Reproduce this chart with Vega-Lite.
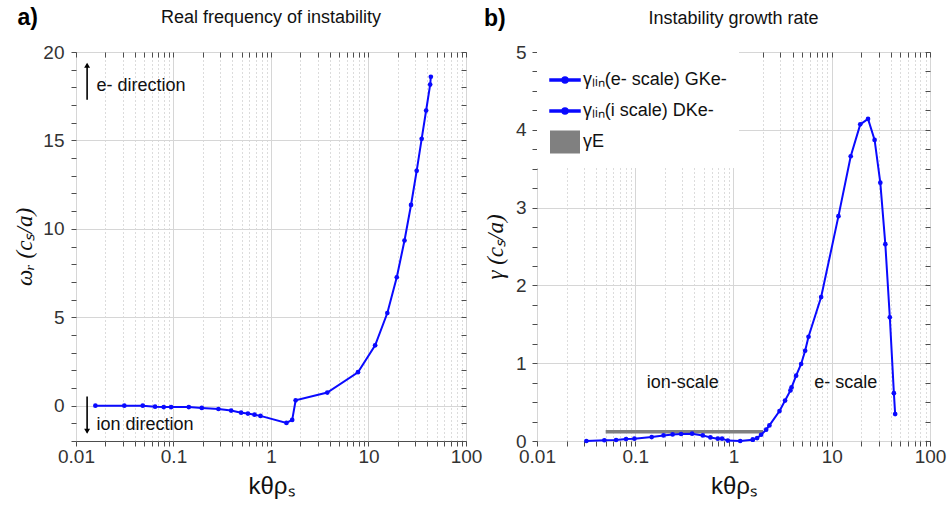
{
  "$schema": "https://vega.github.io/schema/vega-lite/v6.json",
  "padding": {"left": 13, "top": 6, "right": 5, "bottom": 5},
  "bounds": "flush",
  "spacing": 71,
  "resolve": {"scale": {"color": "independent", "size": "independent", "shape": "independent"}, "legend": {"color": "independent", "shape": "independent"}},
  "config": {
    "font": "Liberation Sans",
    "view": {"stroke": "#4d4d4d", "strokeWidth": 1},
    "axis": {"domain": false, "labelFont": "Liberation Sans", "labelFontSize": 19, "labelColor": "#333333", "tickColor": "#4d4d4d", "tickWidth": 1, "titleFontWeight": "normal", "titleColor": "#111111"}
  },
  "datasets": {
    "omega": [
      {"k": 0.0158, "v": 0}, {"k": 0.0313, "v": 0}, {"k": 0.0484, "v": 0}, {"k": 0.0647, "v": -0.06},
      {"k": 0.0794, "v": -0.08}, {"k": 0.0945, "v": -0.08}, {"k": 0.1435, "v": -0.08}, {"k": 0.195, "v": -0.13},
      {"k": 0.289, "v": -0.19}, {"k": 0.39, "v": -0.28}, {"k": 0.494, "v": -0.4}, {"k": 0.58, "v": -0.45},
      {"k": 0.677, "v": -0.51}, {"k": 0.78, "v": -0.58}, {"k": 1.44, "v": -0.98}, {"k": 1.65, "v": -0.81},
      {"k": 1.79, "v": 0.3}, {"k": 3.78, "v": 0.74}, {"k": 7.8, "v": 1.89}, {"k": 11.7, "v": 3.41},
      {"k": 15.6, "v": 5.24}, {"k": 19.5, "v": 7.26}, {"k": 23.4, "v": 9.34}, {"k": 27.3, "v": 11.35},
      {"k": 31.2, "v": 13.28}, {"k": 35.1, "v": 15.09}, {"k": 39.0, "v": 16.69}, {"k": 42.9, "v": 18.16},
      {"k": 43.6, "v": 18.6}
    ],
    "gamma": [
      {"k": 0.0318, "v": 0, "s": "i"}, {"k": 0.0485, "v": 0.01, "s": "i"}, {"k": 0.0638, "v": 0.013, "s": "i"},
      {"k": 0.0806, "v": 0.025, "s": "i"}, {"k": 0.098, "v": 0.03, "s": "i"}, {"k": 0.147, "v": 0.05, "s": "i"},
      {"k": 0.194, "v": 0.072, "s": "i"}, {"k": 0.24, "v": 0.085, "s": "i"}, {"k": 0.293, "v": 0.09, "s": "i"},
      {"k": 0.379, "v": 0.094, "s": "i"}, {"k": 0.487, "v": 0.072, "s": "i"}, {"k": 0.582, "v": 0.046, "s": "i"},
      {"k": 0.692, "v": 0.03, "s": "i"}, {"k": 0.765, "v": 0.03, "s": "i"}, {"k": 0.875, "v": 0.005, "s": "i"},
      {"k": 1.17, "v": 0, "s": "i"}, {"k": 1.57, "v": 0.017, "s": "i"},
      {"k": 1.57, "v": 0.017, "s": "e"}, {"k": 1.74, "v": 0.038, "s": "e"}, {"k": 1.91, "v": 0.08, "s": "e"},
      {"k": 2.15, "v": 0.145, "s": "e"}, {"k": 2.32, "v": 0.2, "s": "e"}, {"k": 2.94, "v": 0.385, "s": "e"},
      {"k": 3.35, "v": 0.52, "s": "e"}, {"k": 3.8, "v": 0.65, "s": "e"}, {"k": 3.9, "v": 0.69, "s": "e"},
      {"k": 4.34, "v": 0.84, "s": "e"}, {"k": 4.88, "v": 0.99, "s": "e"}, {"k": 5.36, "v": 1.16, "s": "e"},
      {"k": 5.8, "v": 1.34, "s": "e"}, {"k": 7.8, "v": 1.85, "s": "e"}, {"k": 11.7, "v": 2.89, "s": "e"},
      {"k": 15.6, "v": 3.66, "s": "e"}, {"k": 19.5, "v": 4.07, "s": "e"}, {"k": 23.4, "v": 4.14, "s": "e"},
      {"k": 27.3, "v": 3.87, "s": "e"}, {"k": 31.2, "v": 3.32, "s": "e"}, {"k": 35.1, "v": 2.53, "s": "e"},
      {"k": 39.0, "v": 1.59, "s": "e"}, {"k": 42.9, "v": 0.615, "s": "e"}, {"k": 44.2, "v": 0.346, "s": "e"}
    ],
    "gE": [{"k": 0.05, "v": 0.12, "s": "E"}, {"k": 2.0, "v": 0.12, "s": "E"}],
    "arrows": [{"k": 0.013, "v": 17.3, "v2": 19.3}, {"k": 0.013, "v": 0.51, "v2": -1.5}],
    "heads": [{"k": 0.013, "v": 19.25, "dir": "up"}, {"k": 0.013, "v": -1.45, "dir": "down"}],
    "annA": [{"k": 0.0162, "v": 18.1, "t": "e- direction"}, {"k": 0.0162, "v": -1.07, "t": "ion direction"}],
    "annB": [{"k": 0.305, "v": 0.74, "t": "ion-scale"}, {"k": 13.9, "v": 0.74, "t": "e- scale"}],
    "headA": [{"k": 1, "v": 21.95, "t": "Real frequency of instability"}],
    "labA": [{"k": 0.0032, "v": 21.95, "t": "a)"}],
    "headB": [{"k": 1, "v": 5.42, "t": "Instability growth rate"}],
    "labB": [{"k": 0.00373, "v": 5.42, "t": "b)"}]
  },
  "hconcat": [
    {
      "width": 390,
      "height": 389,
      "layer": [
        {
          "data": {"name": "omega"},
          "mark": {"type": "line", "color": "#0a0aff", "strokeWidth": 2},
          "encoding": {
            "x": {"field": "k", "type": "quantitative", "scale": {"type": "log", "domain": [0.01, 100]},
              "axis": {"orient": "bottom", "values": [0.01,0.02,0.03,0.04,0.05,0.06,0.07,0.08,0.09,0.1,0.2,0.3,0.4,0.5,0.6,0.7,0.8,0.9,1,2,3,4,5,6,7,8,9,10,20,30,40,50,60,70,80,90,100],
                "labelExpr": "indexof([0.01,0.1,1,10,100], datum.value) >= 0 ? format(datum.value, '~g') : ''",
                "labelOverlap": false, "labelFlush": false, "labelPadding": 1, "tickSize": 5,
                "grid": true,
                "gridDash": {"condition": {"test": "indexof([0.01,0.1,1,10,100], datum.value) >= 0", "value": []}, "value": [1, 3]},
                "gridColor": {"condition": {"test": "indexof([0.01,0.1,1,10,100], datum.value) >= 0", "value": "#d6d6d6"}, "value": "#b8b8b8"},
                "title": "kθρₛ", "titleFontSize": 24, "titlePadding": 8, "titleFont": "Liberation Sans"}},
            "y": {"field": "v", "type": "quantitative", "scale": {"domain": [-2, 20], "nice": false, "zero": false},
              "axis": {"orient": "left", "values": [-2,-1,0,1,2,3,4,5,6,7,8,9,10,11,12,13,14,15,16,17,18,19,20], "format": "~g",
                "labelExpr": "indexof([0,5,10,15,20], datum.value) >= 0 ? datum.label : ''", "labelOverlap": false, "labelFlush": false,
                "tickSize": 5, "labelPadding": 7, "grid": true, "gridColor": "#d6d6d6",
                "gridOpacity": {"condition": {"test": "indexof([0,5,10,15,20], datum.value) >= 0", "value": 1}, "value": 0},
                "title": "ωᵣ (cₛ/a)", "titleFont": "Liberation Serif", "titleFontStyle": "italic", "titleFontSize": 23, "titlePadding": 6}}
          }
        },
        {
          "data": {"name": "omega"},
          "mark": {"type": "point", "filled": true, "color": "#0a0aff", "size": 22, "opacity": 1},
          "encoding": {
            "x": {"field": "k", "type": "quantitative", "scale": {"type": "log", "domain": [0.01, 100]}, "axis": null},
            "y": {"field": "v", "type": "quantitative", "scale": {"domain": [-2, 20], "nice": false, "zero": false}, "axis": null}
          }
        },
        {
          "data": {"name": "arrows"},
          "mark": {"type": "rule", "color": "black", "strokeWidth": 1.6},
          "encoding": {
            "x": {"field": "k", "type": "quantitative", "scale": {"type": "log", "domain": [0.01, 100]}, "axis": null},
            "y": {"field": "v", "type": "quantitative", "scale": {"domain": [-2, 20], "nice": false, "zero": false}, "axis": null},
            "y2": {"field": "v2"}
          }
        },
        {
          "data": {"name": "heads"},
          "mark": {"type": "point", "filled": true, "color": "black", "size": 35, "opacity": 1},
          "encoding": {
            "x": {"field": "k", "type": "quantitative", "scale": {"type": "log", "domain": [0.01, 100]}, "axis": null},
            "y": {"field": "v", "type": "quantitative", "scale": {"domain": [-2, 20], "nice": false, "zero": false}, "axis": null},
            "shape": {"field": "dir", "type": "nominal", "scale": {"domain": ["up", "down"], "range": ["triangle-up", "triangle-down"]}, "legend": null}
          }
        },
        {
          "data": {"name": "annA"},
          "mark": {"type": "text", "align": "left", "baseline": "middle", "fontSize": 18, "font": "Liberation Sans", "color": "#111111"},
          "encoding": {
            "x": {"field": "k", "type": "quantitative", "scale": {"type": "log", "domain": [0.01, 100]}, "axis": null},
            "y": {"field": "v", "type": "quantitative", "scale": {"domain": [-2, 20], "nice": false, "zero": false}, "axis": null},
            "text": {"field": "t"}
          }
        },
        {
          "data": {"name": "headA"},
          "mark": {"type": "text", "align": "center", "baseline": "middle", "fontSize": 18, "font": "Liberation Sans", "color": "#111111"},
          "encoding": {
            "x": {"field": "k", "type": "quantitative", "scale": {"type": "log", "domain": [0.01, 100]}, "axis": null},
            "y": {"field": "v", "type": "quantitative", "scale": {"domain": [-2, 20], "nice": false, "zero": false}, "axis": null},
            "text": {"field": "t"}
          }
        },
        {
          "data": {"name": "labA"},
          "mark": {"type": "text", "align": "center", "baseline": "middle", "fontSize": 23, "fontWeight": "bold", "font": "Liberation Sans", "color": "black"},
          "encoding": {
            "x": {"field": "k", "type": "quantitative", "scale": {"type": "log", "domain": [0.01, 100]}, "axis": null},
            "y": {"field": "v", "type": "quantitative", "scale": {"domain": [-2, 20], "nice": false, "zero": false}, "axis": null},
            "text": {"field": "t"}
          }
        },
        {
          "data": {"name": "omega"},
          "mark": {"type": "point", "opacity": 0},
          "encoding": {
            "x": {"field": "k", "type": "quantitative", "scale": {"type": "log", "domain": [0.01, 100]},
              "axis": {"orient": "top", "values": [0.01,0.02,0.03,0.04,0.05,0.06,0.07,0.08,0.09,0.1,0.2,0.3,0.4,0.5,0.6,0.7,0.8,0.9,1,2,3,4,5,6,7,8,9,10,20,30,40,50,60,70,80,90,100],
                "labels": false, "grid": false, "title": null, "tickSize": 5, "offset": -5}},
            "y": {"field": "v", "type": "quantitative", "scale": {"domain": [-2, 20], "nice": false, "zero": false},
              "axis": {"orient": "right", "values": [-2,-1,0,1,2,3,4,5,6,7,8,9,10,11,12,13,14,15,16,17,18,19,20],
                "labels": false, "grid": false, "title": null, "tickSize": 5, "offset": -5}}
          }
        }
      ],
      "resolve": {"axis": {"x": "independent", "y": "independent"}}
    },
    {
      "width": 393,
      "height": 389,
      "layer": [
        {
          "data": {"name": "gE"},
          "mark": {"type": "line", "strokeWidth": 3.5},
          "encoding": {
            "x": {"field": "k", "type": "quantitative", "scale": {"type": "log", "domain": [0.01, 100]},
              "axis": {"orient": "bottom", "values": [0.01,0.02,0.03,0.04,0.05,0.06,0.07,0.08,0.09,0.1,0.2,0.3,0.4,0.5,0.6,0.7,0.8,0.9,1,2,3,4,5,6,7,8,9,10,20,30,40,50,60,70,80,90,100],
                "labelExpr": "indexof([0.01,0.1,1,10,100], datum.value) >= 0 ? format(datum.value, '~g') : ''",
                "labelOverlap": false, "labelFlush": false, "labelPadding": 1, "tickSize": 5,
                "grid": true,
                "gridDash": {"condition": {"test": "indexof([0.01,0.1,1,10,100], datum.value) >= 0", "value": []}, "value": [1, 3]},
                "gridColor": {"condition": {"test": "indexof([0.01,0.1,1,10,100], datum.value) >= 0", "value": "#d6d6d6"}, "value": "#b8b8b8"},
                "title": "kθρₛ", "titleFontSize": 24, "titlePadding": 8, "titleFont": "Liberation Sans"}},
            "y": {"field": "v", "type": "quantitative", "scale": {"domain": [0, 5], "nice": false},
              "axis": {"orient": "left", "values": [0,0.25,0.5,0.75,1,1.25,1.5,1.75,2,2.25,2.5,2.75,3,3.25,3.5,3.75,4,4.25,4.5,4.75,5], "format": "~g",
                "labelExpr": "indexof([0,1,2,3,4,5], datum.value) >= 0 ? datum.label : ''", "labelOverlap": false, "labelFlush": false,
                "tickSize": 5, "labelPadding": 6, "grid": true, "gridColor": "#d6d6d6",
                "gridOpacity": {"condition": {"test": "indexof([0,1,2,3,4,5], datum.value) >= 0", "value": 1}, "value": 0},
                "title": "γ (cₛ/a)", "titleFont": "Liberation Serif", "titleFontStyle": "italic", "titleFontSize": 23, "titlePadding": 8}},
            "color": {"field": "s", "type": "nominal", "scale": {"domain": ["e", "i", "E"], "range": ["#0a0aff", "#0a0aff", "#808080"]}}
          }
        },
        {
          "data": {"name": "gamma"},
          "mark": {"type": "line", "strokeWidth": 2},
          "encoding": {
            "x": {"field": "k", "type": "quantitative", "scale": {"type": "log", "domain": [0.01, 100]}, "axis": null},
            "y": {"field": "v", "type": "quantitative", "scale": {"domain": [0, 5], "nice": false}, "axis": null},
            "color": {"field": "s", "type": "nominal", "scale": {"domain": ["e", "i", "E"], "range": ["#0a0aff", "#0a0aff", "#808080"]}}
          }
        },
        {
          "data": {"name": "gamma"},
          "mark": {"type": "point", "filled": true, "size": 22, "opacity": 1},
          "encoding": {
            "x": {"field": "k", "type": "quantitative", "scale": {"type": "log", "domain": [0.01, 100]}, "axis": null},
            "y": {"field": "v", "type": "quantitative", "scale": {"domain": [0, 5], "nice": false}, "axis": null},
            "color": {"field": "s", "type": "nominal", "scale": {"domain": ["e", "i", "E"], "range": ["#0a0aff", "#0a0aff", "#808080"]},
              "legend": {
                "title": null, "orient": "top-left", "offset": 0, "padding": 12, "fillColor": "white", "rowPadding": 6,
                "labelFont": "Liberation Sans", "labelFontSize": 18, "labelColor": "#111111", "labelOffset": 2, "labelLimit": 400,
                "symbolSize": 900,
                "labelExpr": "datum.value == 'e' ? 'γₗᵢₙ(e- scale) GKe-' : datum.value == 'i' ? 'γₗᵢₙ(i scale) DKe-' : 'γE'"
              }}
          }
        },
        {
          "data": {"name": "gE"},
          "mark": {"type": "point", "filled": true, "size": 0, "opacity": 1},
          "encoding": {
            "x": {"field": "k", "type": "quantitative", "scale": {"type": "log", "domain": [0.01, 100]}, "axis": null},
            "y": {"field": "v", "type": "quantitative", "scale": {"domain": [0, 5], "nice": false}, "axis": null},
            "color": {"field": "s", "type": "nominal", "scale": {"domain": ["e", "i", "E"], "range": ["#0a0aff", "#0a0aff", "#808080"]}},
            "shape": {"field": "s", "type": "nominal",
              "scale": {"domain": ["e", "i", "E"], "range": ["M-1,-0.07L1,-0.07L1,0.07L-1,0.07Z M-0.2,0A0.2,0.2,0,1,1,0.2,0A0.2,0.2,0,1,1,-0.2,0Z", "M-1,-0.07L1,-0.07L1,0.07L-1,0.07Z M-0.2,0A0.2,0.2,0,1,1,0.2,0A0.2,0.2,0,1,1,-0.2,0Z", "M-0.95,-0.72L0.95,-0.72L0.95,0.72L-0.95,0.72Z"]},
              "legend": {
                "title": null, "orient": "top-left", "offset": 0, "padding": 12, "fillColor": "white", "rowPadding": 6,
                "labelFont": "Liberation Sans", "labelFontSize": 18, "labelColor": "#111111", "labelOffset": 2, "labelLimit": 400,
                "symbolSize": 900,
                "labelExpr": "datum.value == 'e' ? 'γₗᵢₙ(e- scale) GKe-' : datum.value == 'i' ? 'γₗᵢₙ(i scale) DKe-' : 'γE'"
              }}
          }
        },
        {
          "data": {"name": "annB"},
          "mark": {"type": "text", "align": "center", "baseline": "middle", "fontSize": 18, "font": "Liberation Sans", "color": "#111111"},
          "encoding": {
            "x": {"field": "k", "type": "quantitative", "scale": {"type": "log", "domain": [0.01, 100]}, "axis": null},
            "y": {"field": "v", "type": "quantitative", "scale": {"domain": [0, 5], "nice": false}, "axis": null},
            "text": {"field": "t"}
          }
        },
        {
          "data": {"name": "headB"},
          "mark": {"type": "text", "align": "center", "baseline": "middle", "fontSize": 18, "font": "Liberation Sans", "color": "#111111"},
          "encoding": {
            "x": {"field": "k", "type": "quantitative", "scale": {"type": "log", "domain": [0.01, 100]}, "axis": null},
            "y": {"field": "v", "type": "quantitative", "scale": {"domain": [0, 5], "nice": false}, "axis": null},
            "text": {"field": "t"}
          }
        },
        {
          "data": {"name": "labB"},
          "mark": {"type": "text", "align": "center", "baseline": "middle", "fontSize": 23, "fontWeight": "bold", "font": "Liberation Sans", "color": "black"},
          "encoding": {
            "x": {"field": "k", "type": "quantitative", "scale": {"type": "log", "domain": [0.01, 100]}, "axis": null},
            "y": {"field": "v", "type": "quantitative", "scale": {"domain": [0, 5], "nice": false}, "axis": null},
            "text": {"field": "t"}
          }
        },
        {
          "data": {"name": "gamma"},
          "mark": {"type": "point", "opacity": 0},
          "encoding": {
            "x": {"field": "k", "type": "quantitative", "scale": {"type": "log", "domain": [0.01, 100]},
              "axis": {"orient": "top", "values": [0.01,0.02,0.03,0.04,0.05,0.06,0.07,0.08,0.09,0.1,0.2,0.3,0.4,0.5,0.6,0.7,0.8,0.9,1,2,3,4,5,6,7,8,9,10,20,30,40,50,60,70,80,90,100],
                "labels": false, "grid": false, "title": null, "tickSize": 5, "offset": -5}},
            "y": {"field": "v", "type": "quantitative", "scale": {"domain": [0, 5], "nice": false},
              "axis": {"orient": "right", "values": [0,0.25,0.5,0.75,1,1.25,1.5,1.75,2,2.25,2.5,2.75,3,3.25,3.5,3.75,4,4.25,4.5,4.75,5],
                "labels": false, "grid": false, "title": null, "tickSize": 5, "offset": -5}}
          }
        }
      ],
      "resolve": {"axis": {"x": "independent", "y": "independent"}}
    }
  ]
}
